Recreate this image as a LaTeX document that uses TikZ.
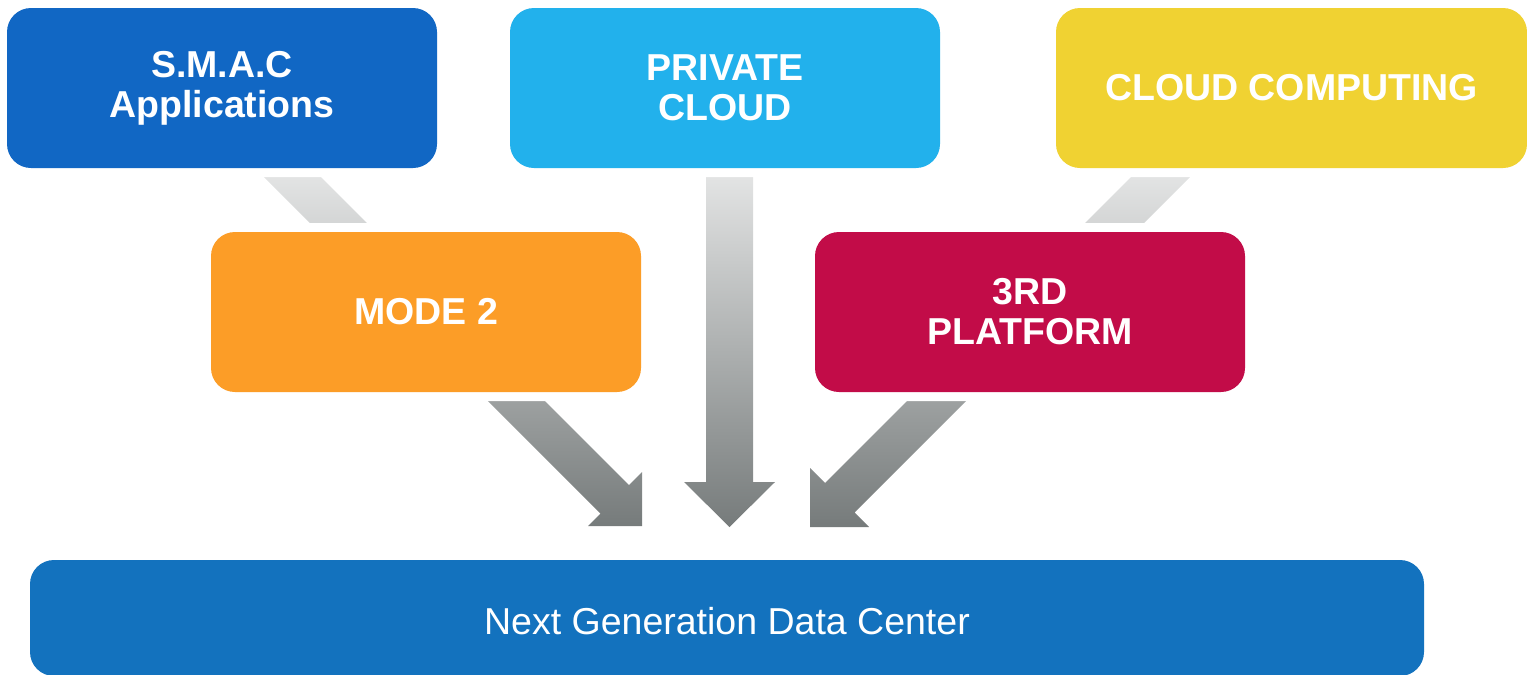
\documentclass[tikz,border=0pt]{standalone}
\usepackage{fontspec}
\setmainfont{Liberation Sans}
\definecolor{csmac}{RGB}{17,103,196}
\definecolor{cpriv}{RGB}{34,177,236}
\definecolor{ccloud}{RGB}{240,210,50}
\definecolor{cmode}{RGB}{252,157,39}
\definecolor{cthird}{RGB}{194,12,72}
\definecolor{cbase}{RGB}{19,114,190}
\definecolor{arrtop}{RGB}{229,230,230}
\definecolor{arrbot}{RGB}{118,123,123}
\tikzset{
  box/.style={rectangle, rounded corners=12pt, inner sep=0pt, align=center,
    text=white, font=\fontsize{18.75}{20}\selectfont\bfseries,
    preaction={draw=white, line width=9pt},
    minimum width=215pt, minimum height=80pt},
  basebox/.style={box, font=\fontsize{18.75}{20}\selectfont,
    minimum width=697pt, minimum height=58pt, text height=16.5pt, text depth=0pt},
  blockarrow/.style={top color=arrtop, bottom color=arrbot}
}
\begin{document}
\begin{tikzpicture}[x=0.5pt,y=-0.5pt]
\useasboundingbox (0,0) rectangle (1527,675);
% block arrows (drawn first, boxes cover them)
\coordinate (la1) at (255,168);
\coordinate (la2) at (312,168);
\shade[blockarrow] (la1) -- (la2) -- (629,485) -- (642,472) -- (642,526)
  -- (588,526) -- (600.5,513.5) -- cycle;
\coordinate (ma1) at (706,168);
\coordinate (ma2) at (753,168);
\shade[blockarrow] (ma1) -- (ma2) -- (753,482) -- (775,482) -- (729.5,527)
  -- (684,482) -- (706,482) -- cycle;
\coordinate (ra1) at (1140,168);
\coordinate (ra2) at (1199,168);
\shade[blockarrow] (ra1) -- (ra2) -- (854.5,512.5) -- (869,527) -- (810,527)
  -- (810,468) -- (825,483) -- cycle;
% boxes
\node[box, fill=csmac] (smac) at (222,88) {S.M.A.C\\Applications};
\node[box, fill=cpriv] (priv) at (725,88) {PRIVATE\\CLOUD};
\node[box, fill=ccloud, minimum width=235.5pt] (cloud) at (1291.5,88) {CLOUD COMPUTING};
\node[box, fill=cmode] (mode) at (426,312) {MODE 2};
\node[box, fill=cthird] (third) at (1030,312) {3RD\\PLATFORM};
\node[basebox, fill=cbase] (base) at (727,618) {Next Generation Data Center};
\end{tikzpicture}
\end{document}
